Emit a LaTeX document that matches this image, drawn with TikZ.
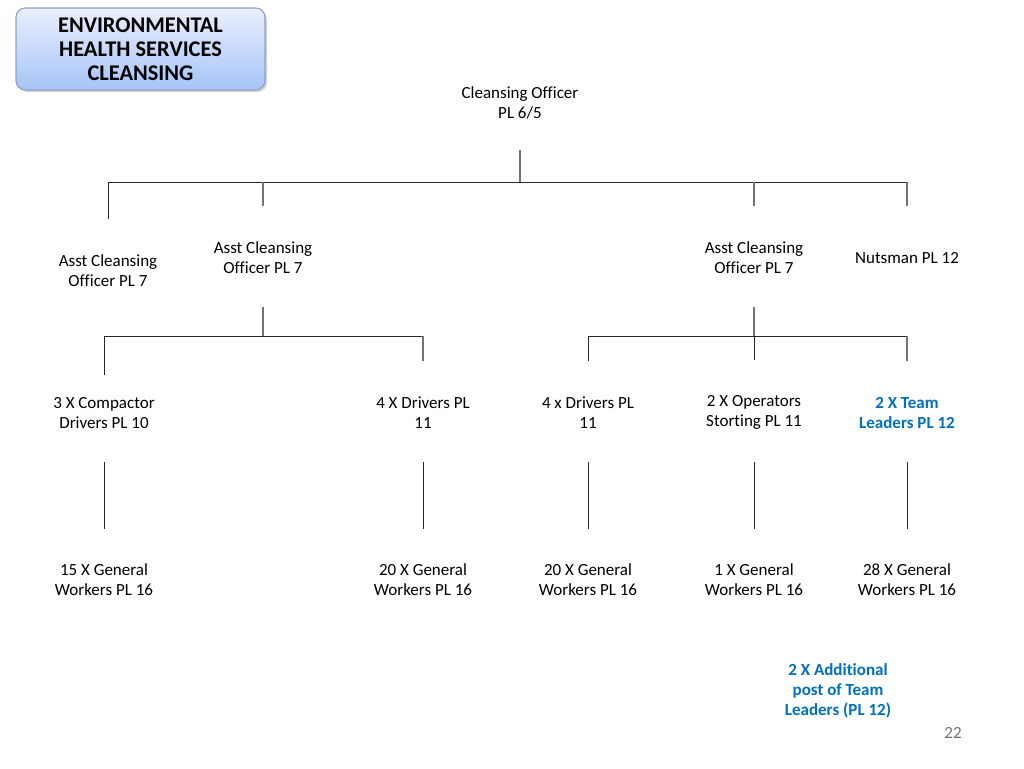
\documentclass[tikz,border=0pt]{standalone}
\usepackage{fontspec}
\setmainfont{Carlito}[Ligatures={NoCommon}]
\usetikzlibrary{shadows}
\definecolor{leadblue}{RGB}{0,112,192}
\definecolor{boxtop}{RGB}{234,239,253}
\definecolor{boxbot}{RGB}{166,196,246}
\definecolor{boxline}{RGB}{140,160,200}

\tikzset{
    post/.style={align=center, inner sep=0pt, font=\fontsize{12.75}{15}\selectfont},
    lead/.style={post, text=leadblue, font=\bfseries\fontsize{12.75}{15}\selectfont},
    bus/.style={draw=black!85, line width=0.75pt},
    stub/.style={draw=black!55, line width=1.1pt},
    heading/.style={rounded corners=7pt, draw=boxline, line width=0.8pt,
        top color=boxtop, bottom color=boxbot, minimum width=186.75pt,
        minimum height=61.5pt, align=center, inner sep=0pt,
        drop shadow={shadow xshift=1.5pt, shadow yshift=-1.5pt, opacity=0.35},
        font=\bfseries\fontsize{16.8}{18}\selectfont}
}

\begin{document}
\begin{tikzpicture}[x=0.75pt,y=-0.75pt]
    \useasboundingbox (0,0) rectangle (1024,768);

    % title box
    \node[heading] (ttl) at (140.5,49) {ENVIRONMENTAL\\HEALTH SERVICES\\CLEANSING};

    % posts
    \node[post] (co) at (520,103) {Cleansing Officer\\PL 6/5};
    \node[post] (ac1) at (108,271) {Asst Cleansing\\Officer PL 7};
    \node[post] (ac2) at (263,258) {Asst Cleansing\\Officer PL 7};
    \node[post] (ac3) at (754,258) {Asst Cleansing\\Officer PL 7};
    \node[post] (nut) at (907,258) {Nutsman PL 12};
    \node[post] (cd) at (104,413) {3 X Compactor\\Drivers PL 10};
    \node[post] (dr1) at (423,413) {4 X Drivers PL\\11};
    \node[post] (dr2) at (588,413) {4 x Drivers PL\\11};
    \node[post] (op) at (754,412) {2 X Operators\\Storting PL 11};
    \node[lead] (tl) at (907,413) {2 X Team\\Leaders PL 12};
    \node[post] (gw1) at (104,580) {15 X General\\Workers PL 16};
    \node[post] (gw2) at (423,580) {20 X General\\Workers PL 16};
    \node[post] (gw3) at (588,580) {20 X General\\Workers PL 16};
    \node[post] (gw4) at (754,580) {1 X General\\Workers PL 16};
    \node[post] (gw5) at (907,580) {28 X General\\Workers PL 16};
    \node[lead] (add) at (838,691) {2 X Additional\\post of Team\\Leaders (PL 12)};
    \node[post, text=black!55] (pg) at (953,733) {22};

    % first level
    \coordinate (j1) at (520,182);
    \draw[stub] (co |- 0,150) -- (j1);
    \draw[bus] (ac1 |- 0,219) -- (ac1 |- j1) -- (nut |- j1);
    \foreach \p in {ac2,ac3,nut}
        \draw[stub] (\p |- j1) -- (\p |- 0,206);

    % second level, left
    \coordinate (j2) at (263,336);
    \draw[stub] (ac2 |- 0,307) -- (j2);
    \draw[bus] (cd |- 0,375) -- (cd |- j2) -- (dr1 |- j2);
    \draw[stub] (dr1 |- j2) -- (dr1 |- 0,361);

    % second level, right
    \coordinate (j3) at (754,336);
    \draw[stub] (ac3 |- 0,307) -- (j3);
    \draw[bus] (dr2 |- 0,361) -- (dr2 |- j3) -- (tl |- j3);
    \draw[bus] (j3) -- (op |- 0,360);
    \draw[stub] (tl |- j3) -- (tl |- 0,361);

    % third level
    \foreach \a/\b in {cd/gw1,dr1/gw2,dr2/gw3,op/gw4,tl/gw5}
        \draw[bus] (\a |- 0,462) -- (\b |- 0,529);
\end{tikzpicture}
\end{document}
